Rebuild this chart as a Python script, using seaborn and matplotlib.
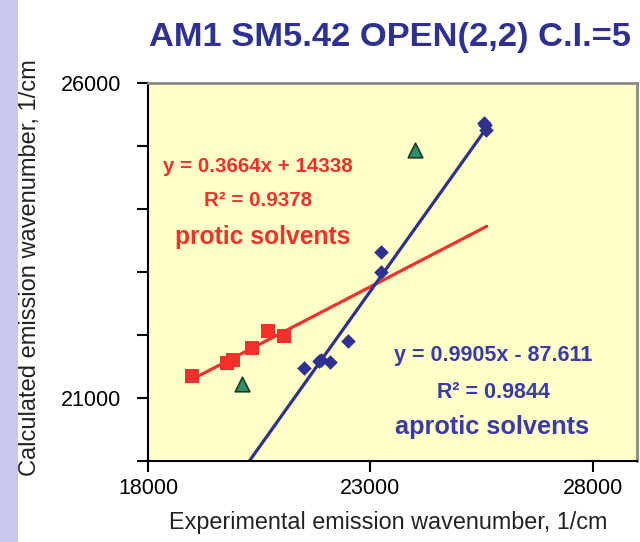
import matplotlib
matplotlib.use("Agg")
import matplotlib.pyplot as plt
import numpy as np
import pandas as pd
import seaborn as sns
from matplotlib.patches import Rectangle

# Data
protic_x = [18980, 19770, 19920, 20350, 20700, 21060]
protic_y = [21350, 21560, 21610, 21790, 22070, 21990]

aprotic_x = [21510, 21850, 21900, 22090, 22500, 23250, 23250, 25570, 25610, 25550]
aprotic_y = [21470, 21580, 21600, 21570, 21910, 23320, 23000, 25330, 25250, 25360]

other_x = [20110, 24000]
other_y = [21220, 24940]

# trendlines: slope, intercept, x range of the drawn segment
protic_fit = (0.3664, 14338)
protic_fit_range = [18980, 25620]
aprotic_fit = (0.9905, -87.611)
aprotic_fit_range = [20100, 25620]

x_ticks = [18000, 23000, 28000]
y_ticks = [20000, 21000, 22000, 23000, 24000, 25000, 26000]
y_tick_labels = ["", "21000", "", "", "", "", "26000"]

red = "#f5302a"
blue = "#2e3192"
text_blue = "#3a3aa8"
green = "#2f8f6a"

W, H = 640, 542


def px(x, y):
    # pixel position in the picture -> figure fraction
    return x / W, 1 - y / H


sns.set_style("ticks")
plt.rcParams["font.family"] = ["Liberation Sans", "DejaVu Sans"]

fig = plt.figure(figsize=(6.4, 5.42), dpi=100)
fig.patch.set_facecolor("white")
fig.patches.append(Rectangle((0, 0), 18 / W, 1, transform=fig.transFigure,
                             facecolor="#c9c7ef", edgecolor="none", zorder=0))
ax = fig.add_axes([148 / W, 1 - 461 / H, (637 - 148) / W, (461 - 83) / H])
ax.set_facecolor("#ffffc8")

protic_df = pd.DataFrame({"x": protic_x, "y": protic_y})
aprotic_df = pd.DataFrame({"x": aprotic_x, "y": aprotic_y})
other_df = pd.DataFrame({"x": other_x, "y": other_y})

fit_rows = []
for name, (m, b), rng in [("protic", protic_fit, protic_fit_range),
                          ("aprotic", aprotic_fit, aprotic_fit_range)]:
    for xv in rng:
        fit_rows.append({"set": name, "x": xv, "y": m * xv + b})
fit_df = pd.DataFrame(fit_rows)

sns.lineplot(data=fit_df[fit_df["set"] == "protic"], x="x", y="y", ax=ax,
             color=red, linewidth=2.3, zorder=2)
sns.lineplot(data=fit_df[fit_df["set"] == "aprotic"], x="x", y="y", ax=ax,
             color=blue, linewidth=2.3, zorder=2)

sns.scatterplot(data=protic_df, x="x", y="y", ax=ax, marker="s", s=110,
                color=red, edgecolor=red, linewidth=0, zorder=3)
sns.scatterplot(data=aprotic_df, x="x", y="y", ax=ax, marker="D", s=55,
                color=blue, edgecolor=blue, linewidth=0, zorder=3)
sns.scatterplot(data=other_df, x="x", y="y", ax=ax, marker="^", s=110,
                color=green, edgecolor="#1a3a2a", linewidth=1.2, zorder=3)

ax.set_xlim(18000, 29000)
ax.set_ylim(20000, 26000)
ax.set_xticks(x_ticks)
ax.set_xticklabels([str(t) for t in x_ticks])
ax.set_yticks(y_ticks)
ax.set_yticklabels(y_tick_labels)
ax.tick_params(axis="both", direction="out", length=8, width=1.5, colors="black",
               labelsize=15.5)
ax.tick_params(axis="y", pad=11)
ax.tick_params(axis="x", pad=4)

for side in ["left", "bottom"]:
    ax.spines[side].set_color("black")
    ax.spines[side].set_linewidth(1.5)
for side in ["top", "right"]:
    ax.spines[side].set_visible(True)
    ax.spines[side].set_color("#8a8a80")
    ax.spines[side].set_linewidth(2)

ax.set_xlabel("")
ax.set_ylabel("")
fig.text(*px(388, 522), "Experimental emission wavenumber, 1/cm",
         ha="center", va="center", fontsize=16.8, color="#222222")
fig.text(*px(30, 268), "Calculated emission wavenumber, 1/cm",
         ha="center", va="center", rotation=90, fontsize=17, color="#222222")

fig.text(*px(390, 38), "AM1 SM5.42 OPEN(2,2) C.I.=5",
         ha="center", va="center", fontsize=24.8, fontweight="bold", color=blue)

# equation annotations
fig.text(*px(258, 167), "y = 0.3664x + 14338", ha="center", va="center",
         fontsize=14.8, fontweight="bold", color=red)
fig.text(*px(258, 200), "R² = 0.9378", ha="center", va="center",
         fontsize=14.8, fontweight="bold", color=red)
fig.text(*px(263, 237), "protic solvents", ha="center", va="center",
         fontsize=17.7, fontweight="bold", color=red)

fig.text(*px(493, 355), "y = 0.9905x - 87.611", ha="center", va="center",
         fontsize=15.5, fontweight="bold", color=text_blue)
fig.text(*px(493, 393), "R² = 0.9844", ha="center", va="center",
         fontsize=15.5, fontweight="bold", color=text_blue)
fig.text(*px(492, 427), "aprotic solvents", ha="center", va="center",
         fontsize=18.3, fontweight="bold", color=text_blue)

fig.savefig("out.png", dpi=100)
